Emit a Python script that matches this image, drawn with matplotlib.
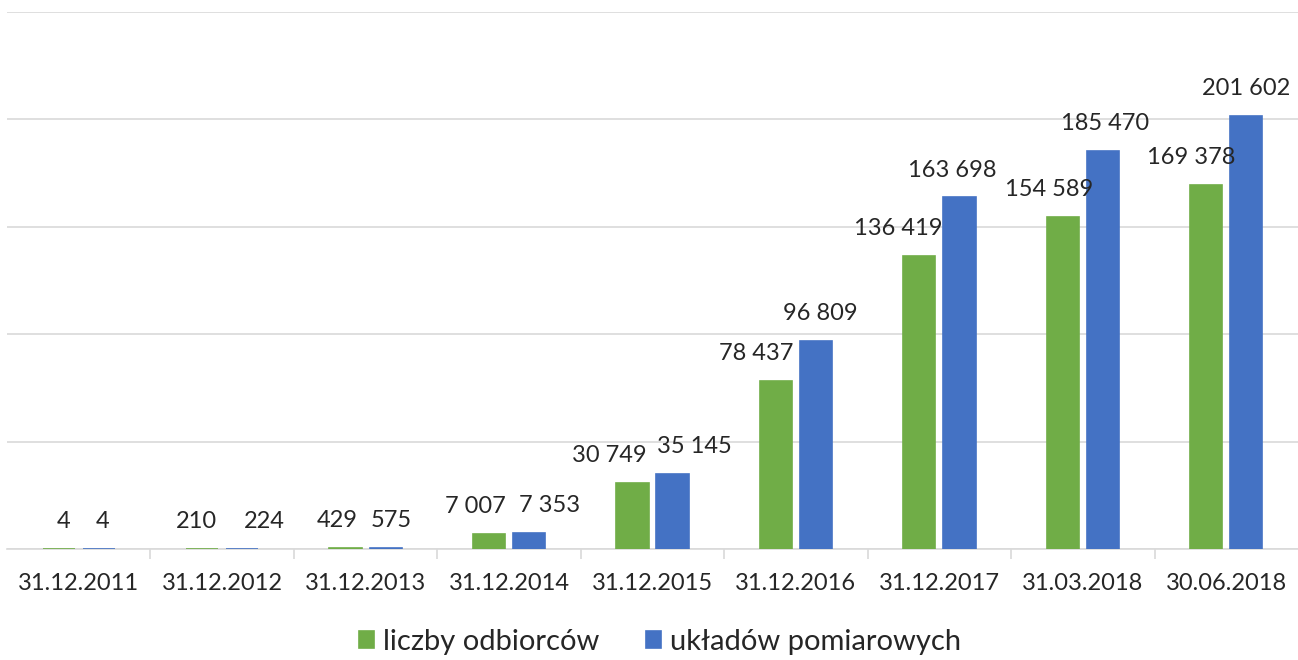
import matplotlib
matplotlib.use("Agg")
import matplotlib.pyplot as plt
import numpy as np

# dane z wykresu
DATES = ["31.12.2011", "31.12.2012", "31.12.2013", "31.12.2014", "31.12.2015",
         "31.12.2016", "31.12.2017", "31.03.2018", "30.06.2018"]
ODBIORCY = [4, 210, 429, 7007, 30749, 78437, 136419, 154589, 169378]
UKLADY = [4, 224, 575, 7353, 35145, 96809, 163698, 185470, 201602]
SERIES_NAMES = ["liczby odbiorców", "układów pomiarowych"]

GREEN = "#70AD47"
BLUE = "#4472C4"

DX_GREEN = [5, -6, -8, -14, -23, -20, -21, -14, -15]
DX_BLUE = [4, 22, 6, 20, 22, 4, -7, 2, 0]


def fmt(v):
    return f"{v:,}".replace(",", " ")


plt.rcParams["font.family"] = ["Lato", "DejaVu Sans"]

fig = plt.figure(figsize=(12.98, 6.60), dpi=100)
ax = fig.add_axes([7 / 1298, 111 / 660, 1291 / 1298, 537 / 660])

x = np.arange(len(DATES))
w = 0.225
off = 0.14
b1 = ax.bar(x - off, ODBIORCY, w, color=GREEN, edgecolor=GREEN, linewidth=1.2,
            label=SERIES_NAMES[0], zorder=3)
b2 = ax.bar(x + off, UKLADY, w, color=BLUE, edgecolor=BLUE, linewidth=1.2,
            label=SERIES_NAMES[1], zorder=3)

px = 0.72  # px -> pt
for xi, v, dx in zip(x - off, ODBIORCY, DX_GREEN):
    ax.annotate(fmt(v), (xi, v), xytext=(dx * px, 15), textcoords="offset points",
                ha="center", va="baseline", fontsize=17, color="#262626", zorder=4)
for xi, v, dx in zip(x + off, UKLADY, DX_BLUE):
    ax.annotate(fmt(v), (xi, v), xytext=(dx * px, 15), textcoords="offset points",
                ha="center", va="baseline", fontsize=17, color="#262626", zorder=4)

ax.set_xlim(-0.5, len(DATES) - 0.5)
ax.set_ylim(0, 250000)
ax.set_yticks(np.arange(0, 250001, 50000))
ax.yaxis.grid(True, color="#d9d9d9", linewidth=1.2)
ax.set_axisbelow(True)
ax.tick_params(axis="y", length=0, labelleft=False)

ax.set_xticks(x)
ax.set_xticklabels(DATES, fontsize=17, color="#262626")
ax.set_xticks(np.arange(0.5, len(DATES) - 0.5, 1), minor=True)
ax.tick_params(axis="x", which="major", length=0, pad=17)
ax.tick_params(axis="x", which="minor", length=7, color="#d9d9d9", width=1.2)

for s in ["top", "right", "left"]:
    ax.spines[s].set_visible(False)
ax.spines["bottom"].set_color("#d9d9d9")
ax.spines["bottom"].set_linewidth(1.2)

fig.legend(handles=[b1, b2], labels=SERIES_NAMES, loc="center",
           bbox_to_anchor=(660 / 1298, 1 - 642 / 660), ncol=2, frameon=False,
           fontsize=21, handlelength=0.52, handleheight=0.52, handletextpad=0.3,
           columnspacing=1.6, labelcolor="#262626")

fig.savefig("out.png", dpi=100)
